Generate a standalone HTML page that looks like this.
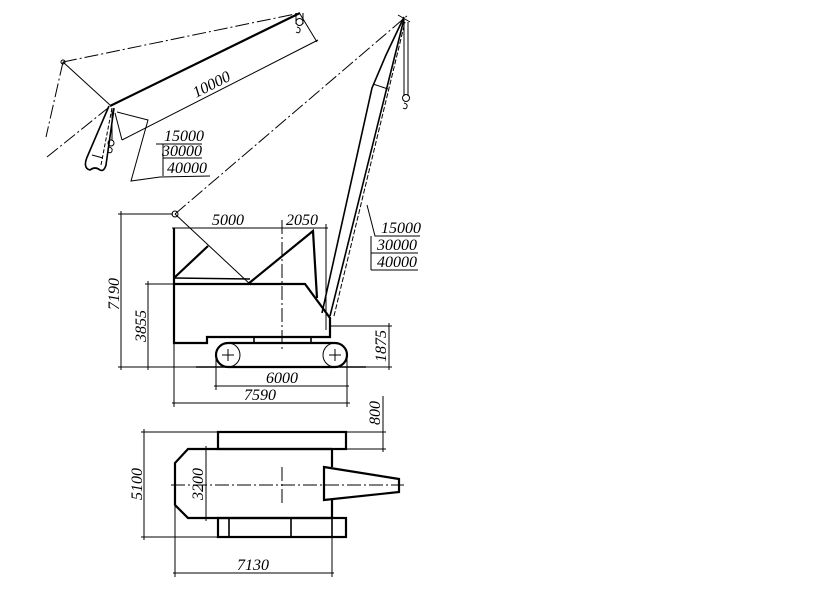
<!DOCTYPE html>
<html><head><meta charset="utf-8"><style>
html,body{margin:0;padding:0;background:#fff;}
svg{display:block;}
svg text{font-family:"Liberation Serif",serif;font-style:italic;font-size:16px;fill:#000;stroke:none;}
</style></head><body>
<svg width="839" height="596" viewBox="0 0 839 596" xmlns="http://www.w3.org/2000/svg" fill="none" stroke="#000">
<defs>
<style>.t{stroke-width:2.2}.m{stroke-width:1.6}.n{stroke-width:1}.dd{stroke-dasharray:14 3 2 3;stroke-width:1}</style>
</defs>

<!-- ===== Upper-left boom view ===== -->
<line class="dd" x1="63" y1="62" x2="300" y2="13"/>
<line class="dd" x1="63" y1="62" x2="46" y2="137"/>
<line class="dd" x1="47" y1="157" x2="108" y2="108"/>
<line class="n" x1="63" y1="62" x2="110" y2="105"/>
<circle class="n" cx="63" cy="62" r="2"/>
<line class="t" x1="110" y1="106" x2="300" y2="13"/>
<line class="n" x1="296" y1="13" x2="296" y2="24"/><line class="n" x1="303" y1="13" x2="303" y2="24"/>
<circle class="n" cx="299.5" cy="22" r="3.5"/><path class="n" d="M297 27 q4 1 3 4 q-1 3 -4 1"/>
<path class="m" d="M109 106 L88 155 Q82 168 90 170 Q95 166 100 170 Q104 172 106 165 L114 108"/>
<line class="n" x1="112" y1="108" x2="101" y2="165" stroke-dasharray="4 2"/>
<line class="n" x1="92" y1="155" x2="103" y2="158"/>
<line class="n" x1="112" y1="108" x2="112" y2="140"/>
<circle class="n" cx="111" cy="143" r="3"/><path class="n" d="M109 147 q4 1 3 4 q-1 3 -4 1"/>
<line class="n" x1="300" y1="14" x2="317" y2="42"/>
<line class="n" x1="115" y1="113" x2="122" y2="140"/>
<line class="n" x1="122" y1="140" x2="318" y2="40"/>
<text transform="translate(196,98) rotate(-27)">10000</text>
<polyline class="n" points="117,112 148,120 131,181 160,177 210,176"/>
<line class="n" x1="156" y1="144" x2="202" y2="144"/>
<line class="n" x1="163" y1="158" x2="202" y2="158"/>
<line class="n" x1="163" y1="144" x2="163" y2="176"/>
<text x="164" y="141">15000</text>
<text x="162" y="156">30000</text>
<text x="167" y="173">40000</text>

<!-- ===== Main boom ===== -->
<line class="dd" x1="175" y1="214" x2="408" y2="15"/>
<path class="m" d="M322 313 L372 88 L386 55 L404 17"/>
<path class="m" d="M330 316 L404 19"/>
<line class="n" x1="334" y1="316" x2="405" y2="22" stroke-dasharray="5 2"/>
<line class="n" x1="373" y1="84" x2="388" y2="89"/>
<line class="n" x1="398" y1="15" x2="410" y2="22"/>
<line class="n" x1="404" y1="20" x2="404" y2="96"/>
<line class="n" x1="408" y1="22" x2="408" y2="96"/>
<circle class="n" cx="406" cy="98" r="3.5"/><path class="n" d="M404 103 q4 1 3 4 q-1 3 -4 1"/>
<polyline class="n" points="367,205 375,236 420,236"/>
<line class="n" x1="371" y1="236" x2="371" y2="270"/>
<line class="n" x1="371" y1="253" x2="418" y2="253"/>
<line class="n" x1="371" y1="270" x2="418" y2="270"/>
<text x="381" y="233">15000</text>
<text x="377" y="250">30000</text>
<text x="377" y="267">40000</text>

<!-- ===== Side view ===== -->
<line class="n" x1="175" y1="214" x2="251" y2="285"/>
<circle class="n" cx="175" cy="214" r="3"/>
<line class="t" x1="174" y1="228" x2="174" y2="284"/>
<polyline class="t" points="174,278 208,246"/>
<polyline class="t" points="248,284 313,231 317,298"/>
<line class="m" x1="174" y1="278" x2="250" y2="279"/>
<path class="t" d="M174 284 L305 284 L330 318 L330 337 L207 337 L207 343 L174 343 Z"/>
<path class="m" d="M254 337 L254 343 M311 337 L311 343"/>
<line class="dd" x1="282" y1="220" x2="282" y2="352"/>
<path class="t" d="M228 343 L335 343 A12 12 0 0 1 335 367 L228 367 A12 12 0 0 1 228 343 Z"/>
<circle class="n" cx="228" cy="355" r="12"/><circle class="n" cx="335" cy="355" r="12"/>
<path class="n" d="M222 355h12M228 349v12M329 355h12M335 349v12"/>
<line class="m" x1="196" y1="367" x2="366" y2="367"/>
<line class="n" x1="118" y1="214" x2="173" y2="214"/>
<line class="n" x1="118" y1="367" x2="196" y2="367"/>
<line class="n" x1="121" y1="211" x2="121" y2="370"/>
<text transform="translate(119,310) rotate(-90)">7190</text>
<line class="n" x1="145" y1="284" x2="174" y2="284"/>
<line class="n" x1="148" y1="281" x2="148" y2="370"/>
<text transform="translate(146,342) rotate(-90)">3855</text>
<line class="n" x1="330" y1="326" x2="392" y2="326"/>
<line class="n" x1="366" y1="367" x2="392" y2="367"/>
<line class="n" x1="389" y1="323" x2="389" y2="370"/>
<text transform="translate(386,362) rotate(-90)">1875</text>
<line class="n" x1="216" y1="355" x2="216" y2="390"/>
<line class="n" x1="347" y1="355" x2="347" y2="407"/>
<line class="n" x1="174" y1="343" x2="174" y2="407"/>
<line class="n" x1="214" y1="386" x2="349" y2="386"/>
<text x="266" y="383">6000</text>
<line class="n" x1="172" y1="403" x2="350" y2="403"/>
<text x="244" y="400">7590</text>
<line class="n" x1="172" y1="228" x2="328" y2="228"/>
<line class="n" x1="326" y1="224" x2="326" y2="330"/>
<text x="212" y="225">5000</text>
<text x="286" y="225">2050</text>

<!-- ===== Top view ===== -->
<rect class="t" x="218" y="432" width="128" height="17"/>
<path class="t" d="M332 449 L188 449 L175 463 L175 505 L188 518 L332 518 M332 449 L332 467 M332 500 L332 518"/>
<rect class="t" x="218" y="518" width="128" height="19"/>
<path class="m" d="M229 518v19M291 518v19M332 518v19"/>
<path class="t" d="M324 467 L399 479 L399 492 L324 500 Z"/>
<line class="dd" x1="171" y1="485" x2="404" y2="485"/>
<line class="dd" x1="282" y1="467" x2="282" y2="505"/>
<line class="n" x1="141" y1="432" x2="218" y2="432"/>
<line class="n" x1="141" y1="537" x2="218" y2="537"/>
<line class="n" x1="144" y1="429" x2="144" y2="540"/>
<text transform="translate(142,500) rotate(-90)">5100</text>
<line class="n" x1="206" y1="446" x2="206" y2="521"/>
<text transform="translate(203,500) rotate(-90)">3200</text>
<line class="n" x1="346" y1="432" x2="386" y2="432"/>
<line class="n" x1="346" y1="449" x2="386" y2="449"/>
<line class="n" x1="383" y1="396" x2="383" y2="452"/>
<text transform="translate(380,425) rotate(-90)">800</text>
<line class="n" x1="175" y1="505" x2="175" y2="577"/>
<line class="n" x1="332" y1="537" x2="332" y2="577"/>
<line class="n" x1="173" y1="573" x2="334" y2="573"/>
<text x="237" y="570">7130</text>
</svg>
</body></html>
